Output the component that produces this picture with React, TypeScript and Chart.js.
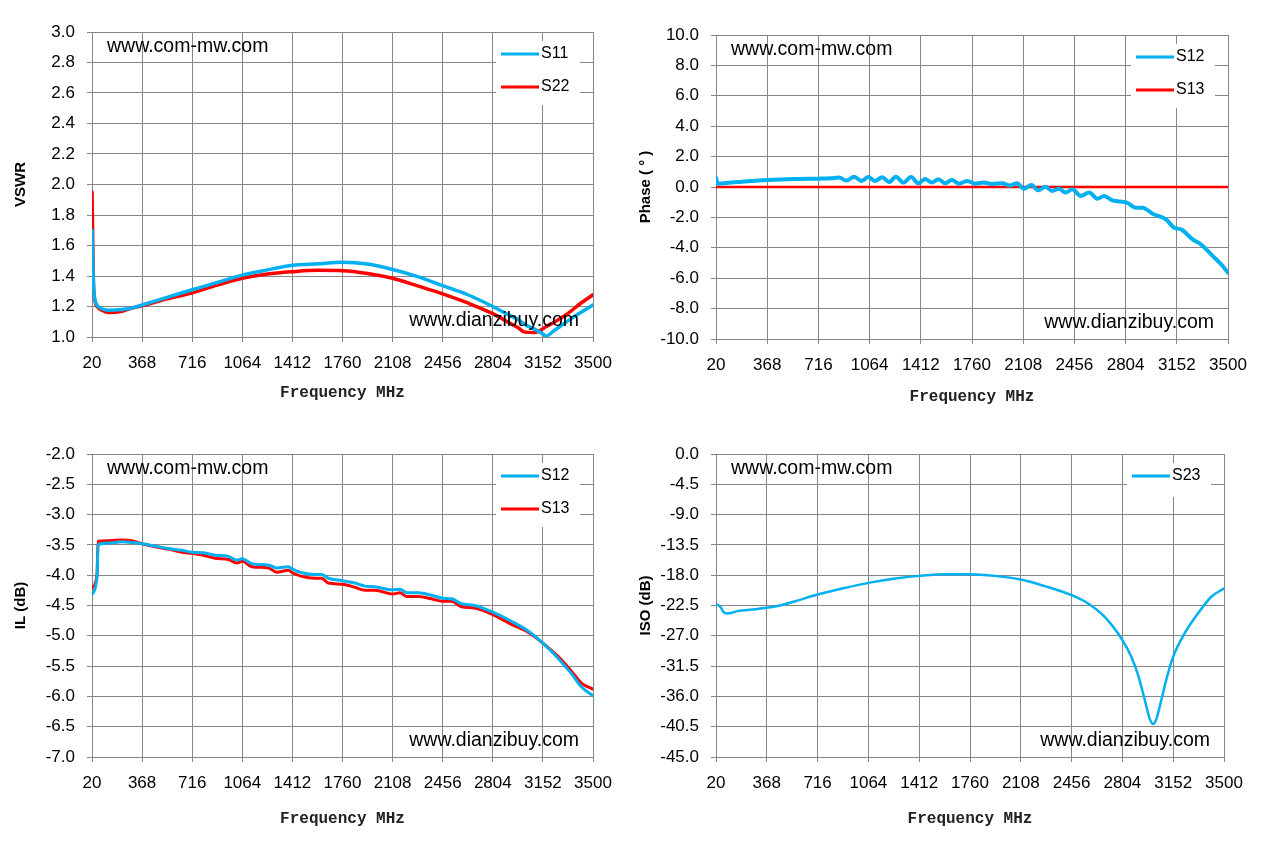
import React, { useEffect, useRef } from "react";
import { Chart, registerables } from "chart.js";

Chart.register(...registerables);

// ---------- shared ----------
const xTicks = [20, 368, 716, 1064, 1412, 1760, 2108, 2456, 2804, 3152, 3500];

// ---------- panel 1 : VSWR ----------
const vswrFreq = [20, 32, 55, 90, 136, 229, 298, 368, 542, 716, 890, 1064, 1238, 1412, 1586, 1760, 1934, 2108, 2282, 2456, 2630, 2804, 2910, 2980, 3026, 3096, 3152, 3173, 3231, 3324, 3417, 3500];
const vswrS11 = [1.70, 1.31, 1.21, 1.185, 1.175, 1.18, 1.19, 1.21, 1.26, 1.31, 1.357, 1.406, 1.44, 1.47, 1.48, 1.49, 1.478, 1.443, 1.396, 1.337, 1.277, 1.20, 1.147, 1.115, 1.082, 1.05, 1.02, 1.006, 1.043, 1.104, 1.162, 1.21];
const vswrS22 = [1.95, 1.31, 1.20, 1.175, 1.16, 1.169, 1.19, 1.205, 1.25, 1.29, 1.34, 1.385, 1.413, 1.428, 1.437, 1.435, 1.417, 1.385, 1.335, 1.283, 1.223, 1.153, 1.097, 1.06, 1.032, 1.03, 1.054, 1.067, 1.097, 1.153, 1.223, 1.277];
const vswrTicks = [1.0, 1.2, 1.4, 1.6, 1.8, 2.0, 2.2, 2.4, 2.6, 2.8, 3.0];

// ---------- panel 2 : Phase ----------
const phaseFreq = [20, 31, 122, 368, 554, 718, 800, 857, 907, 959, 1009, 1055, 1100, 1150, 1196, 1243, 1293, 1346, 1396, 1441, 1487, 1532, 1578, 1623, 1673, 1726, 1782, 1839, 1896, 1964, 2017, 2067, 2112, 2164, 2210, 2260, 2305, 2351, 2396, 2442, 2499, 2556, 2612, 2658, 2715, 2813, 2874, 2919, 2988, 3078, 3135, 3181, 3260, 3317, 3397, 3465, 3500];
const phaseS12 = [0.6, 0.22, 0.29, 0.46, 0.53, 0.55, 0.57, 0.62, 0.42, 0.68, 0.40, 0.66, 0.40, 0.64, 0.33, 0.68, 0.29, 0.66, 0.24, 0.53, 0.29, 0.51, 0.24, 0.46, 0.22, 0.40, 0.22, 0.30, 0.20, 0.25, 0.10, 0.24, -0.11, 0.13, -0.22, 0.02, -0.26, -0.11, -0.37, -0.15, -0.59, -0.37, -0.77, -0.59, -0.88, -1.03, -1.36, -1.36, -1.76, -2.13, -2.68, -2.79, -3.45, -3.78, -4.55, -5.21, -5.65];
const phaseS13Freq = [20, 3500];
const phaseS13 = [0, 0];
const phaseTicks = [-10, -8, -6, -4, -2, 0, 2, 4, 6, 8, 10];

// ---------- panel 3 : IL ----------
const ilFreq = [20, 55, 62, 136, 228, 297, 368, 459, 552, 644, 716, 795, 875, 968, 1026, 1064, 1130, 1245, 1303, 1384, 1412, 1477, 1569, 1615, 1662, 1760, 1846, 1916, 1985, 2108, 2159, 2205, 2286, 2378, 2456, 2517, 2586, 2679, 2804, 2933, 3049, 3152, 3257, 3349, 3419, 3500];
const ilS12 = [-4.32, -4.02, -3.50, -3.47, -3.45, -3.46, -3.48, -3.52, -3.56, -3.59, -3.62, -3.63, -3.67, -3.69, -3.75, -3.73, -3.81, -3.83, -3.88, -3.86, -3.90, -3.96, -3.99, -3.99, -4.05, -4.09, -4.13, -4.18, -4.19, -4.24, -4.23, -4.29, -4.29, -4.33, -4.38, -4.39, -4.47, -4.50, -4.61, -4.76, -4.92, -5.12, -5.37, -5.62, -5.84, -5.99];
const ilS13 = [-4.21, -3.99, -3.44, -3.43, -3.42, -3.43, -3.48, -3.53, -3.57, -3.62, -3.64, -3.67, -3.72, -3.74, -3.80, -3.77, -3.86, -3.88, -3.95, -3.92, -3.96, -4.02, -4.05, -4.05, -4.13, -4.15, -4.20, -4.25, -4.25, -4.31, -4.29, -4.35, -4.35, -4.39, -4.43, -4.43, -4.52, -4.54, -4.65, -4.81, -4.94, -5.12, -5.34, -5.58, -5.78, -5.88];
const ilTicks = [-7.0, -6.5, -6.0, -5.5, -5.0, -4.5, -4.0, -3.5, -3.0, -2.5, -2.0];

// ---------- panel 4 : ISO ----------
const isoFreq = [20, 50, 72, 95, 175, 266, 368, 449, 563, 716, 905, 1064, 1247, 1412, 1589, 1760, 1931, 2108, 2273, 2456, 2569, 2683, 2804, 2865, 2911, 2957, 2991, 3014, 3036, 3071, 3116, 3152, 3230, 3321, 3413, 3500];
const isoS23 = [-22.3, -22.7, -23.5, -23.7, -23.3, -23.1, -22.85, -22.55, -21.86, -20.87, -19.88, -19.14, -18.49, -18.1, -17.85, -17.85, -18.1, -18.64, -19.63, -20.97, -22.2, -24.2, -27.64, -30.1, -32.8, -36.5, -39.3, -40.1, -39.4, -36.5, -32.6, -30.1, -26.65, -23.7, -21.2, -19.98];
const isoTicks = [-45, -40.5, -36, -31.5, -27, -22.5, -18, -13.5, -9, -4.5, 0];

const BLUE = "#00B0F0";
const RED = "#FF0000";
const GRID = "#868686";
const SANS = '"Liberation Sans", Arial, sans-serif';

type Series = { label: string; color: string; width: number; x: number[]; y: number[] };
type PanelCfg = {
  left: number;
  top: number;
  w: number;
  h: number;
  area: { left: number; top: number; right: number; bottom: number };
  yTicks: number[];
  yTitle: string;
  yTitlePad: number;
  xTitlePad: number;
  series: Series[];
};

function Panel({ cfg }: { cfg: PanelCfg }) {
  const ref = useRef<HTMLCanvasElement | null>(null);
  useEffect(() => {
    if (!ref.current) return;
    const { area, w, h, yTicks, series } = cfg;
    const overlay = {
      id: "overlay",
      afterDatasetsDraw(chart: any) {
        const { ctx, chartArea: a } = chart;
        ctx.save();
        const n = series.length;
        ctx.fillStyle = "#ffffff";
        ctx.fillRect(a.right - 97, a.top + 9, 84, n === 2 ? 64 : 34);
        series.forEach((s, i) => {
          const y = a.top + 22 + i * 33;
          ctx.strokeStyle = s.color;
          ctx.lineWidth = 3;
          ctx.beginPath();
          ctx.moveTo(a.right - 92, y);
          ctx.lineTo(a.right - 54, y);
          ctx.stroke();
          ctx.fillStyle = "#000";
          ctx.font = `16px ${SANS}`;
          ctx.textAlign = "left";
          ctx.textBaseline = "middle";
          ctx.fillText(s.label, a.right - 52, y);
        });
        ctx.font = `19.5px ${SANS}`;
        ctx.fillStyle = "#000";
        ctx.textBaseline = "middle";
        ctx.textAlign = "left";
        ctx.fillText("www.com-mw.com", a.left + 15, a.top + 15);
        ctx.textAlign = "right";
        ctx.fillText("www.dianzibuy.com", a.right - 14, a.bottom - 16);
        ctx.restore();
      },
    };
    const chart = new Chart(ref.current, {
      type: "line",
      data: {
        datasets: series.map((s) => ({
          label: s.label,
          data: s.x.map((f, i) => ({ x: f, y: s.y[i] })),
          borderColor: s.color,
          backgroundColor: s.color,
          borderWidth: s.width,
          pointRadius: 0,
          cubicInterpolationMode: "monotone" as const,
          borderJoinStyle: "round" as const,
          borderCapStyle: "round" as const,
          fill: false,
        })),
      },
      options: {
        animation: false,
        responsive: false,
        devicePixelRatio: 1,
        layout: { padding: { left: 0, top: area.top, right: w - area.right, bottom: 0 } },
        plugins: { legend: { display: false }, tooltip: { enabled: false } },
        scales: {
          x: {
            type: "linear",
            min: 20,
            max: 3500,
            afterBuildTicks: (s: any) => {
              s.ticks = xTicks.map((v) => ({ value: v }));
            },
            afterFit: (s: any) => {
              s.height = h - area.bottom;
            },
            ticks: {
              autoSkip: false,
              maxRotation: 0,
              minRotation: 0,
              padding: 11,
              color: "#000",
              font: { family: SANS, size: 17 },
              callback: (v: any) => String(v),
            },
            grid: { color: GRID, lineWidth: 1, tickLength: 5 },
            border: { color: GRID, width: 1 },
            title: {
              display: true,
              text: "Frequency MHz",
              color: "#222",
              font: { family: '"Liberation Mono", "DejaVu Sans Mono", monospace', size: 16, weight: "bold" },
              padding: { top: 0, bottom: cfg.xTitlePad },
            },
          },
          y: {
            type: "linear",
            min: yTicks[0],
            max: yTicks[yTicks.length - 1],
            afterBuildTicks: (s: any) => {
              s.ticks = yTicks.map((v) => ({ value: v }));
            },
            afterFit: (s: any) => {
              s.width = area.left;
            },
            ticks: {
              autoSkip: false,
              padding: 12,
              color: "#000",
              font: { family: SANS, size: 17 },
              callback: (v: any) => Number(v).toFixed(1),
            },
            grid: { color: GRID, lineWidth: 1, tickLength: 5 },
            border: { color: GRID, width: 1 },
            title: {
              display: true,
              text: cfg.yTitle,
              color: "#000",
              font: { family: SANS, size: 15, weight: "bold" },
              padding: { top: cfg.yTitlePad, bottom: 0 },
            },
          },
        },
      } as any,
      plugins: [overlay],
    });
    return () => chart.destroy();
  }, [cfg]);
  return (
    <div style={{ position: "absolute", left: cfg.left, top: cfg.top, width: cfg.w, height: cfg.h }}>
      <canvas ref={ref} width={cfg.w} height={cfg.h} style={{ width: cfg.w, height: cfg.h, display: "block" }} />
    </div>
  );
}

const panels: PanelCfg[] = [
  {
    left: 0, top: 0, w: 633, h: 421,
    area: { left: 92, top: 32, right: 593, bottom: 337 },
    yTicks: vswrTicks, yTitle: "VSWR", yTitlePad: 12, xTitlePad: 18,
    series: [
      { label: "S11", color: BLUE, width: 3.5, x: vswrFreq, y: vswrS11 },
      { label: "S22", color: RED, width: 3.5, x: vswrFreq, y: vswrS22 },
    ],
  },
  {
    left: 633, top: 0, w: 634, h: 421,
    area: { left: 83, top: 35, right: 595, bottom: 339 },
    yTicks: phaseTicks, yTitle: "Phase ( ° )", yTitlePad: 4, xTitlePad: 14,
    series: [
      { label: "S12", color: BLUE, width: 4, x: phaseFreq, y: phaseS12 },
      { label: "S13", color: RED, width: 2.5, x: phaseS13Freq, y: phaseS13 },
    ],
  },
  {
    left: 0, top: 421, w: 633, h: 422,
    area: { left: 92, top: 33, right: 593, bottom: 336 },
    yTicks: ilTicks, yTitle: "IL (dB)", yTitlePad: 12, xTitlePad: 14,
    series: [
      { label: "S12", color: BLUE, width: 3, x: ilFreq, y: ilS12 },
      { label: "S13", color: RED, width: 3, x: ilFreq, y: ilS13 },
    ],
  },
  {
    left: 633, top: 421, w: 634, h: 422,
    area: { left: 83, top: 33, right: 591, bottom: 336 },
    yTicks: isoTicks, yTitle: "ISO (dB)", yTitlePad: 4, xTitlePad: 14,
    series: [{ label: "S23", color: BLUE, width: 2.5, x: isoFreq, y: isoS23 }],
  },
];

export default function App() {
  return (
    <div style={{ position: "absolute", left: 0, top: 0, width: 1267, height: 843, background: "#fff" }}>
      {panels.map((p, i) => (
        <Panel key={i} cfg={p} />
      ))}
    </div>
  );
}
